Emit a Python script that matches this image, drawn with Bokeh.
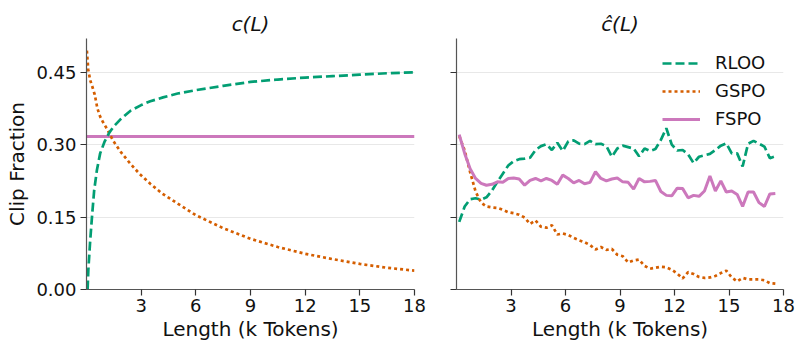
from bokeh.plotting import figure
from bokeh.layouts import row
from bokeh.models import Range1d, FixedTicker, PrintfTickFormatter, CustomJSTickFormatter
from bokeh.embed import file_html
from bokeh.resources import INLINE

# ---------------- data ----------------
# left panel: analytic c(L)
left_rloo_L = [0.06, 0.1, 0.2, 0.3, 0.42, 0.57, 0.75, 1.0, 1.25, 1.5, 1.85, 2.4, 3.0, 3.5,
               4.2, 5.0, 6.0, 7.5, 9.0, 10.5, 12.0, 13.5, 15.0, 16.5, 18.0]
left_rloo = [0.0, 0.04, 0.10, 0.15, 0.205, 0.247, 0.282, 0.307, 0.325, 0.338, 0.352, 0.370,
             0.382, 0.390, 0.398, 0.406, 0.413, 0.422, 0.430, 0.435, 0.439, 0.442, 0.445,
             0.448, 0.450]
left_gspo_L = [0.02, 0.1, 0.2, 0.33, 0.45, 0.6, 0.75, 0.9, 1.12, 1.45, 1.9, 2.4, 2.9, 3.5,
               4.15, 5.0, 6.0, 7.5, 9.0, 10.5, 12.0, 13.5, 15.0, 16.5, 18.0]
left_gspo = [0.495, 0.455, 0.434, 0.419, 0.404, 0.375, 0.358, 0.347, 0.333, 0.309, 0.284,
             0.261, 0.240, 0.219, 0.199, 0.178, 0.154, 0.127, 0.105, 0.088, 0.074, 0.063,
             0.053, 0.045, 0.039]
left_fspo_L = [0.0, 18.0]
left_fspo = [0.317, 0.317]

# right panel: empirical c-hat(L)
right_L = [0.15, 0.45, 0.75, 1.05, 1.35, 1.65, 1.95, 2.25, 2.55, 2.85, 3.15, 3.45, 3.75, 4.05,
           4.35, 4.65, 4.95, 5.25, 5.55, 5.85, 6.15, 6.45, 6.75, 7.05, 7.35, 7.65, 7.95, 8.25,
           8.55, 8.85, 9.15, 9.45, 9.75, 10.05, 10.35, 10.65, 10.95, 11.25, 11.55, 11.85,
           12.15, 12.45, 12.75, 13.05, 13.35, 13.65, 13.95, 14.25, 14.55, 14.85, 15.15, 15.45,
           15.75, 16.05, 16.35, 16.65, 16.95, 17.25, 17.55]
right_rloo = [0.140, 0.172, 0.187, 0.189, 0.186, 0.191, 0.205, 0.223, 0.240, 0.257,
              0.266, 0.270, 0.271, 0.273, 0.289, 0.297, 0.301, 0.289, 0.304, 0.287,
              0.307, 0.309, 0.302, 0.301, 0.308, 0.301, 0.302, 0.297, 0.275, 0.292,
              0.298, 0.295, 0.292, 0.276, 0.292, 0.287, 0.291, 0.310, 0.334, 0.300,
              0.288, 0.289, 0.280, 0.262, 0.275, 0.278, 0.281, 0.289, 0.298, 0.303,
              0.282, 0.282, 0.255, 0.302, 0.308, 0.302, 0.296, 0.272, 0.276]
right_gspo = [0.318, 0.288, 0.243, 0.203, 0.180, 0.172, 0.170, 0.169, 0.165, 0.160,
              0.158, 0.155, 0.149, 0.136, 0.143, 0.130, 0.128, 0.133, 0.114, 0.116,
              0.113, 0.107, 0.102, 0.098, 0.092, 0.083, 0.088, 0.082, 0.084, 0.072,
              0.069, 0.056, 0.060, 0.062, 0.049, 0.043, 0.045, 0.047, 0.046, 0.041,
              0.033, 0.023, 0.036, 0.032, 0.026, 0.024, 0.025, 0.028, 0.034, 0.039,
              0.025, 0.017, 0.024, 0.021, 0.021, 0.021, 0.019, 0.013, 0.012]
right_fspo = [0.321, 0.282, 0.250, 0.230, 0.220, 0.216, 0.218, 0.223, 0.222, 0.230,
              0.231, 0.229, 0.216, 0.226, 0.230, 0.225, 0.230, 0.226, 0.218, 0.237,
              0.230, 0.221, 0.226, 0.219, 0.222, 0.244, 0.230, 0.225, 0.229, 0.231,
              0.223, 0.222, 0.208, 0.230, 0.223, 0.224, 0.226, 0.203, 0.195, 0.194,
              0.210, 0.209, 0.190, 0.195, 0.193, 0.204, 0.235, 0.204, 0.225, 0.202,
              0.204, 0.197, 0.172, 0.202, 0.202, 0.180, 0.172, 0.198, 0.199]

x_ticks = [3, 6, 9, 12, 15, 18]
y_ticks = [0.0, 0.15, 0.30, 0.45]
series_names = ["RLOO", "GSPO", "FSPO"]
titles = ["c(L)", "\u0109(L)"]
x_label = "Length (k Tokens)"
y_label = "Clip Fraction"

GREEN = "#029E73"
ORANGE = "#D55E00"
PINK = "#CC78BC"
FONT = "DejaVu Sans"
DASHED = "9 4"
DOTTED = "3 3"


def style(p, title):
    p.title.text = title
    p.title.align = "center"
    p.title.text_font = FONT
    p.title.text_font_size = "20px"
    p.title.text_font_style = "italic"
    p.title.text_color = "#111111"
    p.title.standoff = 6
    p.outline_line_color = None
    p.xgrid.visible = False
    p.ygrid.ticker = FixedTicker(ticks=y_ticks)
    p.ygrid.grid_line_color = "#e8e8e8"
    p.ygrid.grid_line_width = 1
    p.xaxis.ticker = FixedTicker(ticks=x_ticks)
    p.yaxis.ticker = FixedTicker(ticks=y_ticks)
    for ax in (p.xaxis, p.yaxis):
        ax.axis_line_color = "#555555"
        ax.axis_line_width = 1.2
        ax.major_tick_line_color = "#333333"
        ax.major_tick_line_width = 1.2
        ax.major_tick_out = 6
        ax.major_tick_in = 0
        ax.minor_tick_line_color = None
        ax.major_label_text_font = FONT
        ax.major_label_text_font_size = "18px"
        ax.major_label_text_color = "#111111"
        ax.axis_label_text_font = FONT
        ax.axis_label_text_font_size = "20px"
        ax.axis_label_text_font_style = "normal"
        ax.axis_label_text_color = "#111111"
    p.xaxis.major_label_standoff = 3
    p.xaxis.axis_label_standoff = 2
    p.yaxis.major_label_standoff = 4
    p.xaxis.axis_label = x_label


H = 344
p1 = figure(width=426, height=H, x_range=Range1d(0, 18), y_range=Range1d(0, 0.52),
            output_backend="svg", toolbar_location=None,
            min_border_left=86, min_border_right=12, min_border_top=38, min_border_bottom=55)
style(p1, titles[0])
p1.yaxis.formatter = PrintfTickFormatter(format="%.2f")
p1.yaxis.axis_label = y_label
p1.yaxis.axis_label_standoff = 4
p1.line(left_fspo_L, left_fspo, color=PINK, line_width=3)
p1.line(left_gspo_L, left_gspo, color=ORANGE, line_width=2.7, line_dash=DOTTED)
p1.line(left_rloo_L, left_rloo, color=GREEN, line_width=2.7, line_dash=DASHED)

p2 = figure(width=369, height=H, x_range=Range1d(0, 18), y_range=Range1d(0, 0.52),
            output_backend="svg", toolbar_location=None,
            min_border_left=30, min_border_right=12, min_border_top=38, min_border_bottom=55)
style(p2, titles[1])
p2.yaxis.formatter = CustomJSTickFormatter(code="return ''")
p2.line(right_L, right_rloo, color=GREEN, line_width=2.7, line_dash=DASHED, legend_label=series_names[0])
p2.line(right_L, right_gspo, color=ORANGE, line_width=2.7, line_dash=DOTTED, legend_label=series_names[1])
p2.line(right_L, right_fspo, color=PINK, line_width=3, legend_label=series_names[2])

lg = p2.legend[0]
lg.location = "top_right"
lg.border_line_color = None
lg.background_fill_alpha = 0
lg.label_text_font = FONT
lg.label_text_font_size = "18px"
lg.label_text_color = "#111111"
lg.glyph_width = 38
lg.glyph_height = 20
lg.label_height = 20
lg.label_width = 54
lg.label_standoff = 15
lg.spacing = 7
lg.padding = 0
lg.margin = 14

layout = row(p1, p2)
open("out.html", "w").write(file_html(layout, INLINE))
